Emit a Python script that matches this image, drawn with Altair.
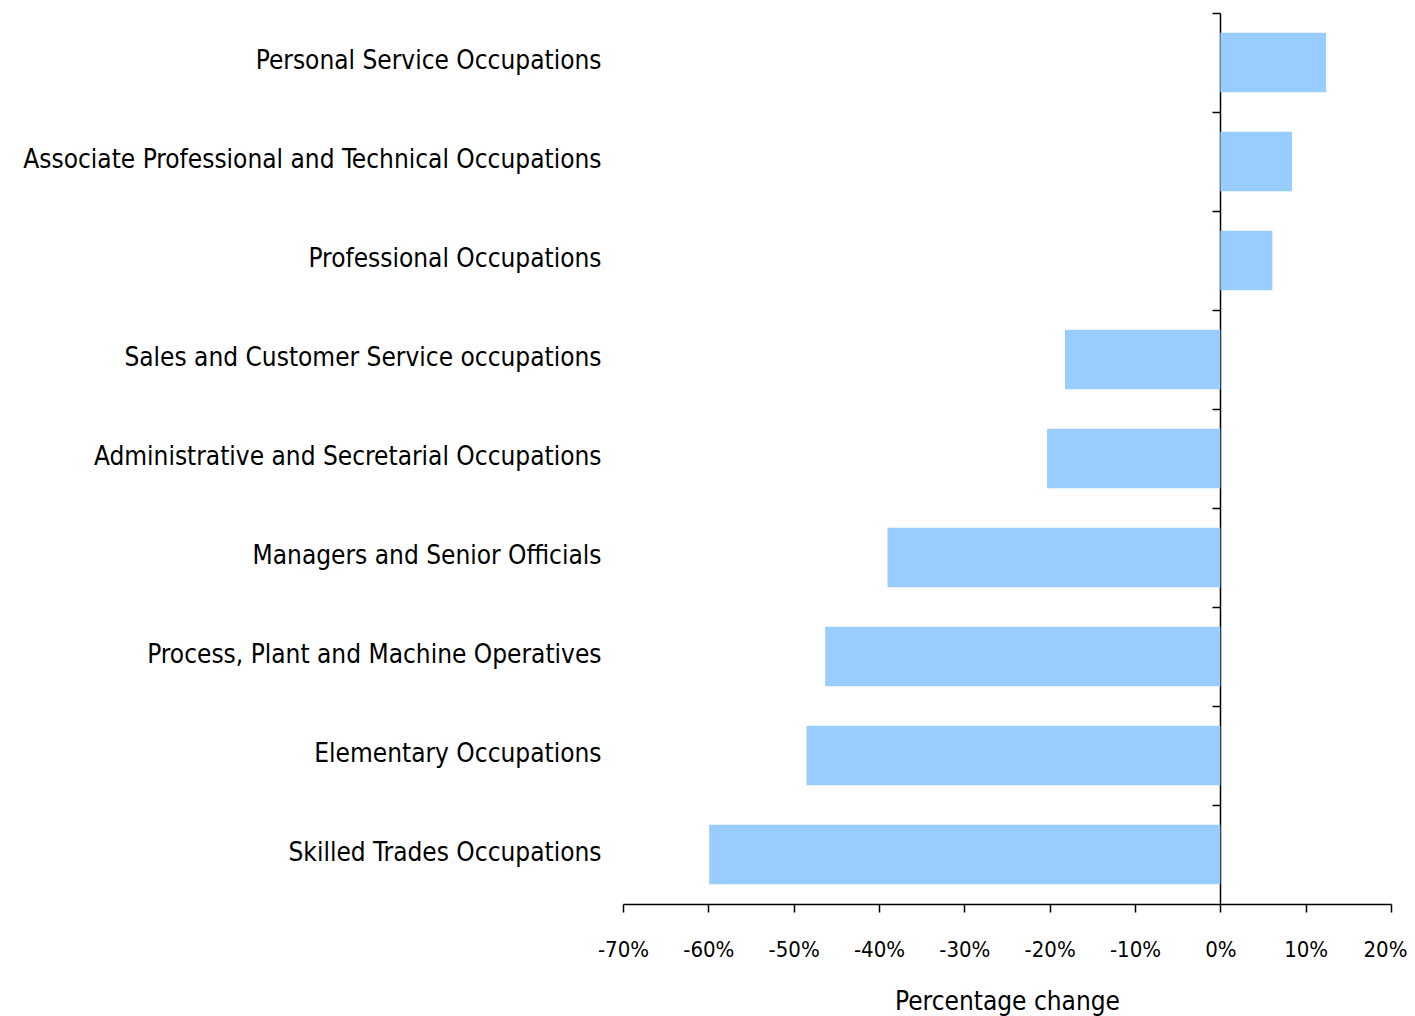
import altair as alt
import pandas as pd

categories = [
    "Personal Service Occupations",
    "Associate Professional and Technical Occupations",
    "Professional Occupations",
    "Sales and Customer Service occupations",
    "Administrative and Secretarial Occupations",
    "Managers and Senior Officials",
    "Process, Plant and Machine Operatives",
    "Elementary Occupations",
    "Skilled Trades Occupations",
]
values = [0.124, 0.084, 0.061, -0.182, -0.203, -0.390, -0.463, -0.485, -0.599]
x_ticks = [-0.7, -0.6, -0.5, -0.4, -0.3, -0.2, -0.1, 0.0, 0.1, 0.2]

df = pd.DataFrame({"category": categories, "value": values})

FONT = "DejaVu Sans Condensed"

y_scale = alt.Scale(domain=categories, paddingInner=0.4, paddingOuter=0.2)
x_scale = alt.Scale(domain=[-0.7, 0.2], nice=False)

bars = alt.Chart(df).mark_bar(color="#99CCFF").encode(
    x=alt.X(
        "value:Q",
        scale=x_scale,
        axis=alt.Axis(
            values=x_ticks,
            labelExpr="(datum.value < -0.0001 ? '-' : '') + format(abs(datum.value), '.0%')",
            labelOverlap=False,
            labelFlush=False,
            labelAlign={"condition": {"test": "datum.value > 0.15", "value": "right"}, "value": "center"},
            labelOffset={"condition": {"test": "datum.value > 0.15", "value": 16}, "value": 0},
            title="Percentage change",
            grid=False,
            domainColor="#000000",
            domainWidth=1.5,
            tickColor="#000000",
            tickWidth=1.5,
            tickSize=8,
            labelPadding=27,
            labelFontSize=22,
            labelFont=FONT,
            labelColor="#000000",
            titleFont=FONT,
            titleFontSize=26,
            titleFontWeight="normal",
            titleColor="#000000",
            titlePadding=28,
        ),
    ),
    y=alt.Y(
        "category:N",
        scale=y_scale,
        sort=categories,
        axis=alt.Axis(
            title=None,
            domain=False,
            ticks=False,
            tickSize=0,
            labelPadding=22,
            labelFontSize=26,
            labelFont=FONT,
            labelColor="#000000",
            labelLimit=0,
            labelOffset=-2,
        ),
    ),
)

zero_axis = alt.Chart(df).mark_bar(opacity=0).encode(
    x=alt.X("value:Q", scale=x_scale, axis=None),
    y=alt.Y(
        "category:N",
        scale=y_scale,
        sort=categories,
        axis=alt.Axis(
            orient="left",
            offset=-597,
            title=None,
            labels=False,
            domain=True,
            domainColor="#000000",
            domainWidth=1.5,
            ticks=True,
            tickOffset=-49.5,
            tickColor="#000000",
            tickWidth=1.5,
            tickSize=8,
        ),
    ),
)

chart = (
    alt.layer(bars, zero_axis)
    .resolve_axis(x="independent", y="independent")
    .properties(
        width=768,
        height=891,
        autosize=alt.AutoSizeParams(type="none"),
        padding={"left": 615, "top": 5, "right": 16, "bottom": 120},
    )
    .configure_view(stroke=None)
)

chart.save("out.html", embed_options={"renderer": "svg", "actions": False})
